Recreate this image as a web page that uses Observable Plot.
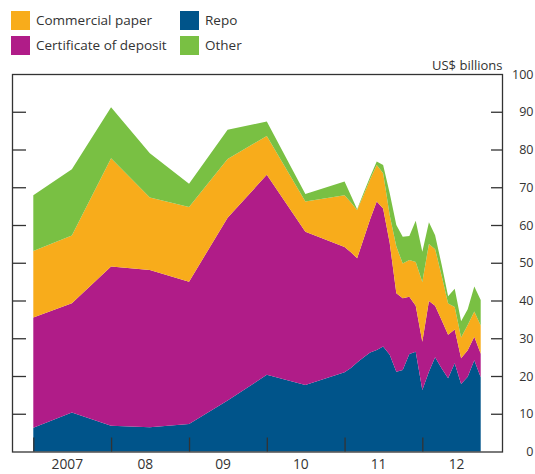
<!DOCTYPE html>
<html><head><meta charset="utf-8">
<script src="https://cdn.jsdelivr.net/npm/d3@7"></script>
<script src="https://cdn.jsdelivr.net/npm/@observablehq/plot@0.6"></script>
<style>
body{margin:0;background:#fff;font-family:"Open Sans",sans-serif;color:#333}
#wrap{position:relative;width:535px;height:474px;overflow:hidden}
#legend{position:absolute;left:0;top:0;width:535px;height:55px;font-size:13.5px}
.item{position:absolute;display:flex;align-items:center;height:20px;white-space:nowrap}
.sw{width:19px;height:19px;margin-right:6px;flex:none}
#chart{position:absolute;left:0;top:55px}
</style></head><body>
<div id="wrap"><div id="legend"></div><div id="chart"></div></div>
<script>
// Series (bottom to top of the stack)
const seriesNames = ["Repo", "Certificate of deposit", "Commercial paper", "Other"];
const seriesColors = ["#00548A", "#B01C88", "#F8AC1B", "#79C043"];

// Observation dates
const dates = [
  "2007-01-01","2007-07-01","2008-01-01","2008-07-01","2009-01-01","2009-07-01",
  "2010-01-01","2010-07-01","2011-01-01","2011-02-01","2011-03-01","2011-04-01",
  "2011-05-01","2011-06-01","2011-07-01","2011-08-01","2011-09-01","2011-10-01",
  "2011-11-01","2011-12-01","2012-01-01","2012-02-01","2012-03-01","2012-04-01",
  "2012-05-01","2012-06-01","2012-07-01","2012-08-01","2012-09-01","2012-10-01"
];
// US$ billions
const repo  = [6.3,10.3,6.8,6.4,7.3,13.5,20.3,17.6,21.0,22.2,23.6,25.0,26.2,26.9,27.8,25.6,21.1,21.6,25.8,26.4,16.3,21.1,25.0,22.0,19.4,23.4,17.9,19.8,24.2,19.7];
const cd    = [29.2,29.0,42.2,41.7,37.7,48.4,53.0,40.6,33.2,30.5,27.6,31.4,35.3,39.3,36.6,29.6,20.8,19.0,15.2,12.2,12.8,18.8,13.6,12.8,11.5,8.9,6.8,7.0,6.2,6.2];
const cp    = [17.6,17.9,28.7,19.2,19.8,15.6,10.3,8.0,13.7,13.2,12.8,11.6,10.6,9.7,9.3,7.4,12.4,9.2,9.7,11.6,15.8,15.1,15.0,11.7,8.3,6.0,5.5,6.7,6.7,7.5];
const other = [14.8,17.6,13.5,11.7,6.1,7.7,3.8,2.0,3.6,1.8,0.2,0.6,0.7,0.9,2.2,5.8,5.7,7.1,6.4,10.9,8.0,5.7,3.7,2.9,1.9,4.8,4.3,4.2,6.6,6.7];

// Axis labels
const years = [2007, 2008, 2009, 2010, 2011, 2012];
const yearLabels = ["2007", "08", "09", "10", "11", "12"];
const yLabels = [0, 10, 20, 30, 40, 50, 60, 70, 80, 90, 100];
const yTickMarks = [10, 20, 30, 40, 50, 60, 70, 80, 90];
const unitLabel = "US$ billions";

// Legend order as shown
const legendItems = [
  {name: "Commercial paper", left: 11, top: 10},
  {name: "Certificate of deposit", left: 11, top: 35},
  {name: "Repo", left: 180, top: 10},
  {name: "Other", left: 180, top: 35}
];

const series = [repo, cd, cp, other];
const data = [];
dates.forEach((d, i) => {
  seriesNames.forEach((s, j) => data.push({date: new Date(d + "T00:00:00Z"), series: s, value: series[j][i]}));
});

const legend = document.getElementById("legend");
legendItems.forEach(it => {
  const el = document.createElement("div");
  el.className = "item";
  el.style.left = it.left + "px";
  el.style.top = it.top + "px";
  const sw = document.createElement("div");
  sw.className = "sw";
  sw.style.background = seriesColors[seriesNames.indexOf(it.name)];
  const t = document.createElement("span");
  t.textContent = it.name;
  el.appendChild(sw); el.appendChild(t);
  legend.appendChild(el);
});

const yearStarts = years.map(y => new Date(Date.UTC(y, 0, 1)));
const yearMids = years.map(y => new Date(Date.UTC(y, 6, 1)));

const plot = Plot.plot({
  width: 535,
  height: 419,
  marginTop: 19,
  marginBottom: 22.5,
  marginLeft: 12,
  marginRight: 33,
  style: {fontFamily: '"Open Sans", sans-serif', fontSize: "13px", color: "#333", background: "#fff"},
  x: {type: "utc", domain: [new Date("2006-09-23T00:00:00Z"), new Date("2013-01-09T00:00:00Z")]},
  y: {domain: [0, 100]},
  color: {domain: seriesNames, range: seriesColors},
  marks: [
    Plot.areaY(data, {x: "date", y: "value", z: "series", fill: "series", order: seriesNames}),
    Plot.axisY(yLabels, {anchor: "right", tickSize: 0, tickPadding: 31, textAnchor: "end", label: null, fontSize: 12.5}),
    Plot.axisY(yTickMarks, {anchor: "right", tickSize: -12, fill: "none", label: null, strokeWidth: 1.3}),
    Plot.axisY(yTickMarks, {anchor: "left", tickSize: -14, fill: "none", label: null, strokeWidth: 1.3}),
    Plot.axisX(yearStarts, {anchor: "bottom", tickSize: -14, fill: "none", label: null, strokeWidth: 1.3}),
    Plot.axisX(yearMids, {anchor: "bottom", tickSize: 0, tickPadding: 7, label: null, dx: -5, fontSize: 13.8,
      tickFormat: d => yearLabels[years.indexOf(d.getUTCFullYear())]}),
    Plot.frame({stroke: "#333", strokeWidth: 1.3}),
    Plot.text([unitLabel], {frameAnchor: "top-right", textAnchor: "end", dy: -14, fontSize: 13, fill: "#333"})
  ]
});
document.getElementById("chart").appendChild(plot);
</script>
</body></html>
